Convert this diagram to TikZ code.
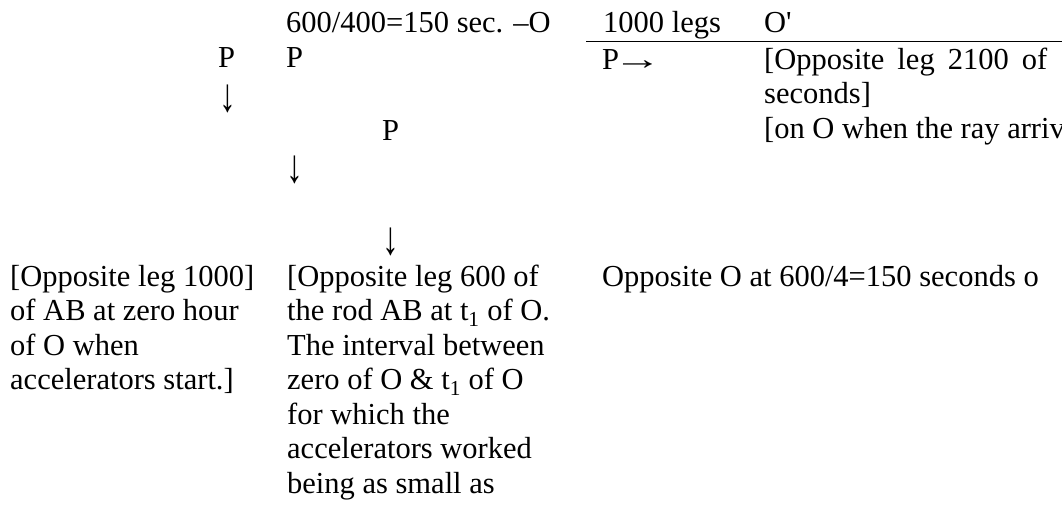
\documentclass[tikz,border=0pt]{standalone}
\usepackage{fontspec}
\usepackage{graphicx}
\setmainfont{Liberation Serif}
\newfontfamily\plainfont{Liberation Serif}
\newcommand{\tallarrow}{\scalebox{1.1}[1.55]{↓}}
\newcommand{\longarrow}{\scalebox{1.6}[1]{→}}
\tikzset{
  txt/.style={anchor=base west, inner sep=0pt, font=\fontsize{30.5}{34.5}\selectfont},
  darrow/.style={anchor=south west, inner sep=0pt, font=\fontsize{30.5}{34.5}\selectfont},
  rule/.style={line width=1.5pt}
}
\begin{document}
\begin{tikzpicture}[x=1pt,y=-1pt]
\fill[white] (0,0) rectangle (1062,508);
\useasboundingbox (0,0) rectangle (1062,508);
\clip (0,0) rectangle (1062,508);
% top rows
\node[txt] (top) at (286,33) {600/400=150 sec. –O};
\node[txt] (legs) at (603,33) {1000 legs};
\node[txt] (oprime) at (764,33) {{\plainfont O'}};
\node[txt] (pa) at (218,68) {P};
\node[txt] (pb) at (286,68) {P};
\node[txt] (pright) at (602,70) {P\kern-6pt\longarrow};
\node[txt] (r1) at (764,70) {\spaceskip=13pt\relax [Opposite leg 2100 of};
\node[txt] (r2) at (764,104) {seconds]};
\node[txt] (r3) at (764,139) {[on O when the ray arriv};
\node[darrow] (da) at (219,113) {\tallarrow};
\node[txt] (pc) at (382,140) {P};
\node[darrow] (db) at (286,184) {\tallarrow};
\node[darrow] (dc) at (382,256) {\tallarrow};
% rule
\coordinate (ls) at (586,41.5);
\coordinate (le) at (1062,41.5);
\draw[rule] (ls) -- (le);
% lower paragraphs
\node[txt] (left) at (10,286) {\vtop{\hbox{[Opposite leg 1000]}\hbox{of AB at zero hour}\hbox{of O when}\hbox{accelerators start.]}}};
\node[txt] (mid) at (287,286) {\vtop{\hbox{[Opposite leg 600 of}\hbox{the rod AB at t\textsubscript{1} of O.}\hbox{The interval between}\hbox{zero of O \& t\textsubscript{1} of O}\hbox{for which the}\hbox{accelerators worked}\hbox{being as small as}}};
\node[txt] (oppo) at (602,286) {Opposite O at 600/4=150 seconds o};
\end{tikzpicture}
\end{document}
